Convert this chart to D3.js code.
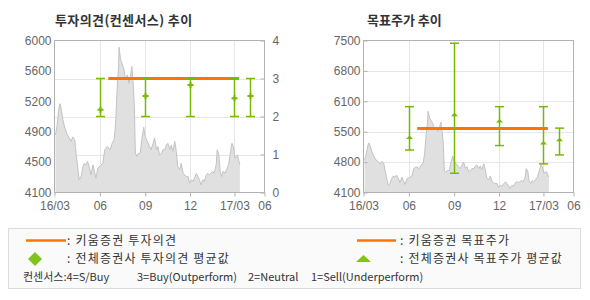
<!DOCTYPE html>
<html><head><meta charset="utf-8">
<script src="https://cdn.jsdelivr.net/npm/d3@7"></script>
<style>
html,body{margin:0;padding:0;background:#fff;}
svg{display:block;}
</style></head>
<body>
<svg id="c" width="590" height="300"></svg>
<script>
// ---------- DATA ----------
const priceDates = ["2016-03-03","2016-03-06","2016-03-10","2016-03-12","2016-03-15","2016-03-18","2016-03-22","2016-03-27","2016-03-31","2016-04-04","2016-04-07","2016-04-11","2016-04-14","2016-04-17","2016-04-20","2016-04-24","2016-04-27","2016-04-30","2016-05-04","2016-05-07","2016-05-11","2016-05-14","2016-05-18","2016-05-21","2016-05-24","2016-05-28","2016-06-02","2016-06-07","2016-06-11","2016-06-16","2016-06-22","2016-06-26","2016-06-30","2016-07-03","2016-07-06","2016-07-09","2016-07-10","2016-07-13","2016-07-16","2016-07-20","2016-07-23","2016-07-27","2016-07-30","2016-08-03","2016-08-05","2016-08-08","2016-08-10","2016-08-12","2016-08-15","2016-08-18","2016-08-22","2016-08-25","2016-08-29","2016-09-01","2016-09-05","2016-09-10","2016-09-13","2016-09-17","2016-09-20","2016-09-24","2016-09-27","2016-09-30","2016-10-04","2016-10-07","2016-10-11","2016-10-14","2016-10-17","2016-10-21","2016-10-24","2016-10-27","2016-10-31","2016-11-03","2016-11-06","2016-11-10","2016-11-13","2016-11-17","2016-11-20","2016-11-23","2016-11-27","2016-11-30","2016-12-04","2016-12-07","2016-12-11","2016-12-14","2016-12-17","2016-12-20","2016-12-23","2016-12-27","2016-12-30","2017-01-03","2017-01-06","2017-01-09","2017-01-12","2017-01-16","2017-01-19","2017-01-23","2017-01-25","2017-01-28","2017-01-31","2017-02-03","2017-02-06","2017-02-10","2017-02-13","2017-02-17","2017-02-20","2017-02-24","2017-02-27","2017-03-02","2017-03-04","2017-03-07","2017-03-10","2017-03-12"];
const priceValues = [4820,4925,5155,5210,5135,5010,4905,4820,4780,4740,4795,4760,4570,4425,4260,4300,4405,4465,4445,4490,4405,4320,4445,4365,4280,4405,4435,4465,4635,4675,4635,4715,4760,4965,5385,5675,5915,5760,5715,5635,5510,5570,5465,5590,5675,5425,5175,4590,4550,4590,4590,4760,4915,4800,4740,4675,4635,4715,4780,4635,4675,4570,4590,4635,4635,4695,4715,4635,4695,4615,4740,4615,4425,4385,4465,4340,4320,4300,4300,4215,4260,4240,4300,4340,4300,4260,4195,4260,4240,4320,4340,4320,4340,4365,4340,4445,4635,4590,4365,4300,4365,4340,4385,4445,4570,4715,4675,4530,4550,4570,4490,4445];

const xTickDates  = ["2016-03-01","2016-06-01","2016-09-01","2016-12-01","2017-03-01","2017-05-01"];
const xTickLabels = ["16/03","06","09","12","17/03","06"];

const opinionTickLabels = ["4100","4500","4900","5200","5600","6000"];
const opinionAxisLabels = ["0","1","2","3","4"];
const targetTickLabels  = ["4100","4800","5500","6100","6800","7500"];

// consensus (all brokers) - investment opinion
const consDates   = ["2016-06-01","2016-09-01","2016-12-01","2017-03-01","2017-04-01"];
const opinionHigh = [3,3,3,3,3];
const opinionLow  = [2,2,2,2,2];
const opinionAvg  = [2.18,2.54,2.83,2.48,2.54];
// consensus (all brokers) - target price
const targetHigh  = [6020,7440,6020,6020,5540];
const targetLow   = [5050,4530,5150,4740,4940];
const targetAvg   = [5330,5840,5700,5210,5280];
// Kiwoom
const kiwoomDates   = ["2016-06-18","2017-03-10"];
const kiwoomOpinion = [3,3];
const kiwoomTarget  = [5530,5530];

// ---------- DRAW ----------
const parse = d3.timeParse("%Y-%m-%d");
const svg = d3.select("#c");
const GREEN = "#76b900", ORANGE = "#ff7300";
const FONT_AX = "'Liberation Sans', Arial, sans-serif";
const FONT_KR = "'Noto Sans CJK KR', sans-serif";
const price = priceDates.map((d,i)=>({date:parse(d), v:priceValues[i]}));

function chart(opt){
  const L = opt.left, R = L + 210, T = 40.5, B = 192.5;
  const g = svg.append("g");
  const x = d3.scaleTime().domain([parse(xTickDates[0]), parse(xTickDates[xTickDates.length-1])]).range([L, R]);
  const yP = d3.scaleLinear().domain([4100, opt.pMax]).range([B, T]);
  const pTicks = d3.range(6).map(i => 4100 + i*(opt.pMax-4100)/5);

  // title
  g.append("text").attr("x", opt.titleX).attr("y", 25)
    .attr("font-family", FONT_KR).attr("font-size", opt.titleSize).attr("font-weight","bold")
    .attr("letter-spacing", opt.titleSpacing)
    .attr("fill","#333").text(opt.title);

  // grid
  const grid = g.append("g").attr("stroke","#e6e6e6").attr("stroke-width",1);
  xTickDates.slice(1,5).forEach(d=>{
    const xx = Math.round(x(parse(d)))+0.5;
    grid.append("line").attr("x1",xx).attr("x2",xx).attr("y1",T).attr("y2",B);
  });
  opt.gridVals.forEach(v=>{
    const yy = Math.round(opt.gridScale(v))+0.5;
    grid.append("line").attr("x1",L).attr("x2",R).attr("y1",yy).attr("y2",yy);
  });

  // price area
  const area = d3.area().x(d=>x(d.date)).y0(yP(4100)).y1(d=>yP(d.v));
  const line = d3.line().x(d=>x(d.date)).y(d=>yP(d.v));
  g.append("path").datum(price).attr("d",area).attr("fill","#e0e0e0");
  g.append("path").datum(price).attr("d",line).attr("fill","none").attr("stroke","#c3c3c3").attr("stroke-width",1);

  // kiwoom orange line
  const ks = opt.seriesScale;
  g.append("line")
    .attr("x1", x(parse(kiwoomDates[0]))).attr("x2", x(parse(kiwoomDates[1])))
    .attr("y1", ks(opt.kiwoom[0])).attr("y2", ks(opt.kiwoom[1]))
    .attr("stroke", ORANGE).attr("stroke-width",3);

  // error bars
  const eb = g.append("g").attr("stroke",GREEN).attr("stroke-width",1.5).attr("fill","none");
  consDates.forEach((d,i)=>{
    const xx = Math.round(x(parse(d)))+0.5;
    const yh = ks(opt.high[i]), yl = ks(opt.low[i]);
    eb.append("line").attr("x1",xx).attr("x2",xx).attr("y1",yh).attr("y2",yl);
    eb.append("line").attr("x1",xx-4.5).attr("x2",xx+4.5).attr("y1",yh).attr("y2",yh);
    eb.append("line").attr("x1",xx-4.5).attr("x2",xx+4.5).attr("y1",yl).attr("y2",yl);
    g.append("path").attr("transform",`translate(${xx},${ks(opt.avg[i])})`)
      .attr("d", opt.marker).attr("fill",GREEN);
  });

  // frame
  g.append("rect").attr("x",L).attr("y",T).attr("width",R-L).attr("height",B-T)
    .attr("fill","none").attr("stroke","#b2b2b2").attr("stroke-width",1);

  // axes
  const styleAxis = sel => {
    sel.select(".domain").remove();
    sel.selectAll("line").attr("stroke","#b2b2b2");
    sel.selectAll("text").attr("fill","#666").attr("font-family",FONT_AX).attr("font-size",12);
  };
  g.append("g").attr("transform",`translate(0,${B})`)
    .call(d3.axisBottom(x).tickValues(xTickDates.map(parse)).tickSizeInner(4).tickSizeOuter(0).tickPadding(5)
      .tickFormat((d,i)=>xTickLabels[i]))
    .call(styleAxis);
  g.append("g").attr("transform",`translate(${L},0)`)
    .call(d3.axisLeft(yP).tickValues(pTicks).tickSize(opt.leftTick).tickPadding(3)
      .tickFormat((d,i)=>opt.pLabels[i]))
    .call(styleAxis);
  if (opt.rightAxis) {
    g.append("g").attr("transform",`translate(${R},0)`)
      .call(d3.axisRight(opt.rightAxis).tickValues([0,1,2,3,4]).tickSize(-4).tickPadding(8)
        .tickFormat((d,i)=>opinionAxisLabels[i]))
      .call(styleAxis);
  }
}

const yOpinion = d3.scaleLinear().domain([0,4]).range([192.5,40.5]);
const yTarget  = d3.scaleLinear().domain([4100,7500]).range([192.5,40.5]);

chart({
  left:54.5, pMax:6000, pLabels:opinionTickLabels, title:"투자의견(컨센서스) 추이", titleX:55, titleSize:13, titleSpacing:0.4,
  gridVals:[1,2,3], gridScale:yOpinion, seriesScale:yOpinion, rightAxis:yOpinion, leftTick:0,
  kiwoom:kiwoomOpinion, high:opinionHigh, low:opinionLow, avg:opinionAvg,
  marker:"M-1,-3H1V-1H3V1H1V3H-1V1H-3V-1H-1Z"
});
chart({
  left:363.5, pMax:7500, pLabels:targetTickLabels, title:"목표주가 추이", titleX:367, titleSize:13, titleSpacing:0,
  gridVals:d3.range(1,5).map(i=>4100+i*680), gridScale:yTarget, seriesScale:yTarget, rightAxis:null, leftTick:-4,
  kiwoom:kiwoomTarget, high:targetHigh, low:targetLow, avg:targetAvg,
  marker:"M-3.5,1.5L0,-2L3.5,1.5Z"
});

// ---------- LEGEND ----------
const lg = svg.append("g");
lg.append("rect").attr("x",8.5).attr("y",228.5).attr("width",572).attr("height",60)
  .attr("fill","#fafafa").attr("stroke","#dcdcdc");
const lt = (x,y,t,size,ls)=>lg.append("text").attr("x",x).attr("y",y).attr("font-family",FONT_KR)
  .attr("font-size",size||12).attr("letter-spacing",ls||0).attr("fill","#333").text(t);
lg.append("line").attr("x1",26).attr("x2",66).attr("y1",240.5).attr("y2",240.5).attr("stroke",ORANGE).attr("stroke-width",2.5);
lt(67,245,":  키움증권 투자의견",12,1.2);
lg.append("path").attr("d","M35,252L42,259L35,266L28,259Z").attr("fill","#7fc31c");
lt(67,263,":  전체증권사 투자의견 평균값",12,1.2);
lg.append("line").attr("x1",357).attr("x2",396).attr("y1",240.5).attr("y2",240.5).attr("stroke",ORANGE).attr("stroke-width",2.5);
lt(400,245,": 키움증권 목표주가",12,1.2);
lg.append("path").attr("d","M356,262L363.5,255L371,262Z").attr("fill","#7fc31c");
lt(400,263,": 전체증권사 목표주가 평균값",12,1.2);
lt(23,281,"컨센서스:4=S/Buy",11);
lt(137,281,"3=Buy(Outperform)",11);
lt(248,281,"2=Neutral",11);
lt(311,281,"1=Sell(Underperform)",11);
</script>
</body></html>
